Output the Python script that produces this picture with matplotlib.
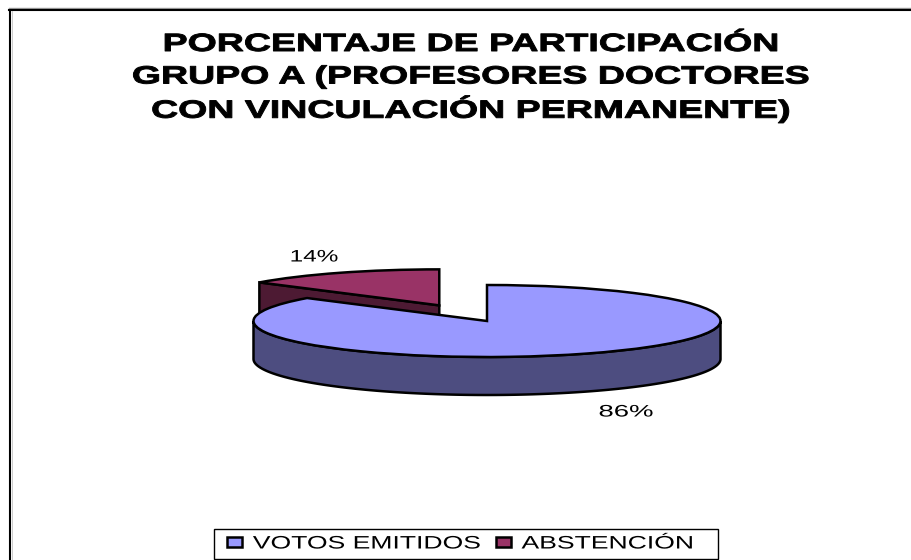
import matplotlib
matplotlib.use("Agg")
import numpy as np
import matplotlib.pyplot as plt
from matplotlib.lines import Line2D
from matplotlib.patches import Patch, Polygon, Rectangle
from matplotlib.patheffects import AbstractPathEffect
from matplotlib.transforms import Affine2D

plt.rcParams['font.family'] = ['Liberation Sans', 'DejaVu Sans']

labels = ["VOTOS EMITIDOS", "ABSTENCIÓN"]
values = [86, 14]
top_colors = ["#9999FF", "#993366"]
side_colors = ["#4D4D80", "#4D1A33"]
title_lines = ["PORCENTAJE DE PARTICIPACIÓN",
               "GRUPO A (PROFESORES DOCTORES",
               "CON VINCULACIÓN PERMANENTE)"]

W, H = 911, 560
cx, cy = 487, 321      # centre of the big slice, pixels
rx, ry = 233.5, 36
depth = 38 / ry


# the text in the reference is stretched sideways, matplotlib has no option for it
class StretchX(AbstractPathEffect):
    def __init__(self, sx, x0, edge=0):
        super().__init__()
        self.sx = sx
        self.x0 = x0
        self.edge = edge

    def draw_path(self, renderer, gc, tpath, affine, rgbFace=None):
        t = affine + Affine2D().translate(-self.x0, 0).scale(self.sx, 1).translate(self.x0, 0)
        gc0 = renderer.new_gc()
        gc0.copy_properties(gc)
        gc0.set_linewidth(self.edge)
        if self.edge:
            gc0.set_foreground('black')
        renderer.draw_path(gc0, tpath, t, rgbFace)
        gc0.restore()


def px(x, y):
    return x / W, 1 - y / H


fig = plt.figure(figsize=(W / 100, H / 100), dpi=100)
ax = fig.add_axes([0, 0, 1, 1])

wedges, _ = ax.pie(values, colors=top_colors, startangle=90, counterclock=False,
                   explode=[0, 0.48], wedgeprops={'edgecolor': 'black', 'linewidth': 1.8})
ax.set_aspect('auto')
# unit circle squashed into the ellipse seen in the picture
ax.set_xlim(-cx / rx, (W - cx) / rx)
ax.set_ylim((cy - H) / ry, cy / ry)

big, small = wedges
big.set_zorder(5)
small.set_zorder(3)


def rim(wedge, t):
    c = wedge.center
    return np.column_stack([c[0] + np.cos(np.radians(t)), c[1] + np.sin(np.radians(t))])


# front wall of the big slice
t = np.linspace(180, 360, 200)
top = rim(big, t)
bottom = top - [0, depth]
ax.add_patch(Polygon(np.vstack([top, bottom[::-1]]), closed=True, facecolor=side_colors[0],
                     edgecolor='black', linewidth=1.8, zorder=4))

# cut face of the small slice
end = rim(small, np.array([small.theta2]))[0]
apex = np.array(small.center)
ax.add_patch(Polygon([apex, end, end - [0, depth], apex - [0, depth]], closed=True,
                     facecolor=side_colors[1], edgecolor='black', linewidth=1.8, zorder=2))

# chart frame, only left and top show
for xs, ys, col, lw in [((10, 10), (9.5, 560), 'black', 1.5),
                        ((9, 911), (8, 8), '#999999', 1),
                        ((9, 911), (9.5, 9.5), 'black', 1.5),
                        ((11.5, 11.5), (11, 560), '#cccccc', 0.7)]:
    a, b = px(xs[0], ys[0]), px(xs[1], ys[1])
    fig.add_artist(Line2D([a[0], b[0]], [a[1], b[1]], color=col, linewidth=lw,
                          transform=fig.transFigure))

stretched = []
t14 = ax.text((314 - cx) / rx, (cy - 257) / ry, f"{values[1]}%", ha='center', va='center', fontsize=12)
t86 = ax.text((626 - cx) / rx, (cy - 412) / ry, f"{values[0]}%", ha='center', va='center', fontsize=12)
stretched += [(t14, 1.46, 'c', 0), (t86, 1.65, 'c', 0)]

for line, y in zip(title_lines, [44, 76.5, 108.5]):
    tt = fig.text(*px(470, y), line, ha='center', va='center', fontsize=18, fontweight='bold')
    stretched.append((tt, 1.5, 'c', 0.7))

# legend box is drawn apart because the stretched text is wider than the legend thinks
fig.add_artist(Rectangle(px(214, 559), 504 / W, 30 / H, transform=fig.transFigure,
                         facecolor='white', edgecolor='black', linewidth=1, zorder=6))
handles = [Patch(facecolor=c, edgecolor='black', linewidth=1.8) for c in top_colors]
leg = fig.legend(handles, labels, ncol=2, loc='center left', bbox_to_anchor=px(227, 544),
                 fontsize=13, frameon=False, handlelength=0.83, handleheight=0.5,
                 handletextpad=0.6, columnspacing=4.9, borderpad=0, borderaxespad=0)
leg.set_zorder(7)
for lt in leg.get_texts():
    stretched.append((lt, 1.47, 'l', 0))

fig.canvas.draw()
for txt, sx, anchor, edge in stretched:
    bb = txt.get_window_extent()
    x0 = bb.x0 if anchor == 'l' else (bb.x0 + bb.x1) / 2
    txt.set_path_effects([StretchX(sx, x0, edge)])

fig.savefig("out.png", dpi=100)
